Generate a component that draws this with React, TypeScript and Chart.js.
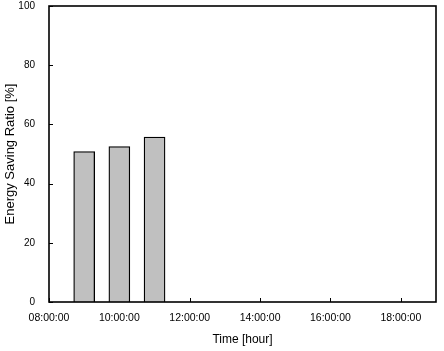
import React, { useEffect, useRef } from "react";
import { Chart, registerables } from "chart.js";

Chart.register(...registerables);

// Data
const hours = [9, 10, 11];
const savingRatio = [50.8, 52.5, 55.7];
const xTickHours = [8, 10, 12, 14, 16, 18];
const yTicks = [0, 20, 40, 60, 80, 100];
const xTitle = "Time [hour]";
const yTitle = "Energy Saving Ratio [%]";

const FONT = "'Liberation Sans', Arial, sans-serif";

const fmtHour = (h: number) => `${String(h).padStart(2, "0")}:00:00`;

const framePlugin = {
  id: "frame",
  beforeDatasetsDraw(chart: any) {
    const { ctx, chartArea, scales } = chart;
    const { left, right, top, bottom } = chartArea;
    ctx.save();
    ctx.strokeStyle = "#000";
    ctx.lineWidth = 1;
    const tl = 4;
    ctx.beginPath();
    yTicks.forEach((v) => {
      const y = Math.round(scales.y.getPixelForValue(v)) + 0.5;
      ctx.moveTo(left, y);
      ctx.lineTo(left + tl, y);
    });
    xTickHours.forEach((v) => {
      const x = Math.round(scales.x.getPixelForValue(v)) + 0.5;
      ctx.moveTo(x, bottom);
      ctx.lineTo(x, bottom - tl);
    });
    ctx.stroke();
    ctx.restore();
  },
  afterDatasetsDraw(chart: any) {
    const { ctx, chartArea } = chart;
    const { left, right, top, bottom } = chartArea;
    ctx.save();
    ctx.strokeStyle = "#000";
    ctx.lineWidth = 1.6;
    ctx.strokeRect(left, top, right - left, bottom - top);
    ctx.restore();
  },
};

export default function App() {
  const ref = useRef<HTMLCanvasElement>(null);
  useEffect(() => {
    document.body.style.margin = "0";
    const canvas = ref.current;
    if (!canvas) return;
    const chart = new Chart(canvas, {
      type: "bar",
      data: {
        datasets: [
          {
            data: hours.map((h, i) => ({ x: h, y: savingRatio[i] })),
            backgroundColor: "#c0c0c0",
            borderColor: "#000",
            borderWidth: 1.3,
            barThickness: 21,
          },
        ],
      },
      options: {
        animation: false,
        responsive: false,
        maintainAspectRatio: false,
        layout: { padding: { top: 6, right: 8, left: 0, bottom: 0 } },
        plugins: {
          legend: { display: false },
          tooltip: { enabled: false },
        },
        scales: {
          x: {
            type: "linear",
            min: 8,
            max: 19,
            offset: false,
            grid: { display: false, offset: false },
            border: { display: false },
            afterBuildTicks: (s: any) => {
              s.ticks = xTickHours.map((v) => ({ value: v }));
            },
            afterFit: (s: any) => {
              s.height = 49;
              s.paddingLeft = 0;
              s.paddingRight = 0;
            },
            ticks: {
              autoSkip: false,
              maxRotation: 0,
              padding: 2,
              color: "#000",
              font: { family: FONT, size: 10.5 },
              callback: (v: any) => fmtHour(Number(v)),
            },
            title: {
              display: true,
              text: xTitle,
              color: "#000",
              font: { family: FONT, size: 12 },
              padding: { top: 0, bottom: 4 },
            },
          },
          y: {
            min: 0,
            max: 100,
            grid: { display: false },
            border: { display: false },
            afterBuildTicks: (s: any) => {
              s.ticks = yTicks.map((v) => ({ value: v }));
            },
            afterFit: (s: any) => {
              s.width = 49;
              s.paddingTop = 0;
              s.paddingBottom = 0;
            },
            ticks: {
              padding: 6,
              color: "#000",
              font: { family: FONT, size: 10 },
            },
            title: {
              display: true,
              text: yTitle,
              color: "#000",
              font: { family: FONT, size: 13 },
              padding: { top: 3, bottom: 0 },
            },
          },
        },
      },
      plugins: [framePlugin],
    } as any);
    return () => chart.destroy();
  }, []);
  return (
    <div style={{ width: 444, height: 351 }}>
      <canvas ref={ref} width={444} height={351} />
    </div>
  );
}
